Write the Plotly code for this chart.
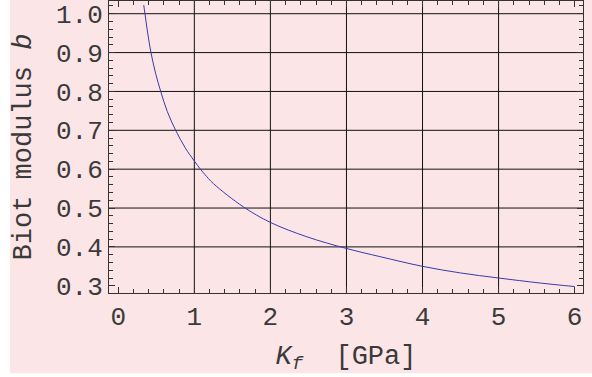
import plotly.graph_objects as go

# Data
K_f = [0.335, 0.351, 0.387, 0.43, 0.49, 0.558, 0.645, 0.755, 0.88, 1.00, 1.08, 1.14,
       1.25, 1.645, 2.00, 2.48, 3.00, 3.44, 4.00, 4.50, 5.00, 5.55, 6.00]
b_mod = [1.022, 1.000, 0.950, 0.900, 0.847, 0.800, 0.748, 0.700, 0.655, 0.621, 0.600,
         0.586, 0.563, 0.503, 0.463, 0.426, 0.396, 0.375, 0.350, 0.333, 0.320, 0.307, 0.298]

x_ticks = [0, 1, 2, 3, 4, 5, 6]
y_ticks = [0.3, 0.4, 0.5, 0.6, 0.7, 0.8, 0.9, 1.0]
grid_x = [1, 2, 3, 4, 5]
grid_y = [0.4, 0.5, 0.6, 0.7, 0.8, 0.9, 1.0]

PINK = "#FCE5E7"
FONT = "Liberation Mono"
INK = "#3a3a3a"

fig = go.Figure()
fig.add_trace(go.Scatter(x=K_f, y=b_mod, mode="lines", line_shape="spline",
                         line=dict(color="#3a3aa8", width=1), showlegend=False,
                         hoverinfo="skip"))

shapes = []
for gx in grid_x:
    shapes.append(dict(type="line", xref="x", yref="paper", x0=gx, x1=gx, y0=0, y1=1,
                       line=dict(color="#111111", width=1), layer="below"))
for gy in grid_y:
    shapes.append(dict(type="line", xref="paper", yref="y", x0=0, x1=1, y0=gy, y1=gy,
                       line=dict(color="#111111", width=1), layer="below"))
# white strips at the left and bottom edges of the image
shapes.append(dict(type="rect", xref="paper", yref="paper", x0=-0.24, x1=-0.2089,
                   y0=-0.3, y1=1.01, fillcolor="white", line=dict(width=0), layer="below"))
shapes.append(dict(type="rect", xref="paper", yref="paper", x0=-0.24, x1=1.03,
                   y0=-0.3, y1=-0.275, fillcolor="white", line=dict(width=0), layer="below"))

axis_common = dict(showgrid=False, zeroline=False, showline=True, linecolor="#333333",
                   linewidth=1, mirror="allticks", ticks="inside", ticklen=6,
                   tickcolor="#333333", tickwidth=1,
                   tickfont=dict(family=FONT, size=26, color=INK))

fig.update_layout(
    width=592, height=377,
    margin=dict(l=109, r=9, t=1, b=84),
    paper_bgcolor=PINK, plot_bgcolor=PINK,
    shapes=shapes,
    xaxis=dict(**axis_common, range=[-0.122, 6.11], tickvals=x_ticks,
               ticktext=[str(v) for v in x_ticks],
               minor=dict(dtick=0.2, tick0=0, ticks="inside", ticklen=4,
                          tickcolor="#333333", showgrid=False),
               title=dict(text="<i>K</i><sub><i>f</i></sub>  [GPa]", standoff=12,
                          font=dict(family=FONT, size=27, color=INK))),
    yaxis=dict(**axis_common, range=[0.2814, 1.0327], tickvals=y_ticks,
               ticktext=[f"{v:.1f}" for v in y_ticks],
               minor=dict(dtick=0.02, tick0=0.3, ticks="inside", ticklen=4,
                          tickcolor="#333333", showgrid=False),
               title=dict(text="Biot modulus <i>b</i>", standoff=16,
                          font=dict(family=FONT, size=27, color=INK))),
)

fig.write_html("out.html")
